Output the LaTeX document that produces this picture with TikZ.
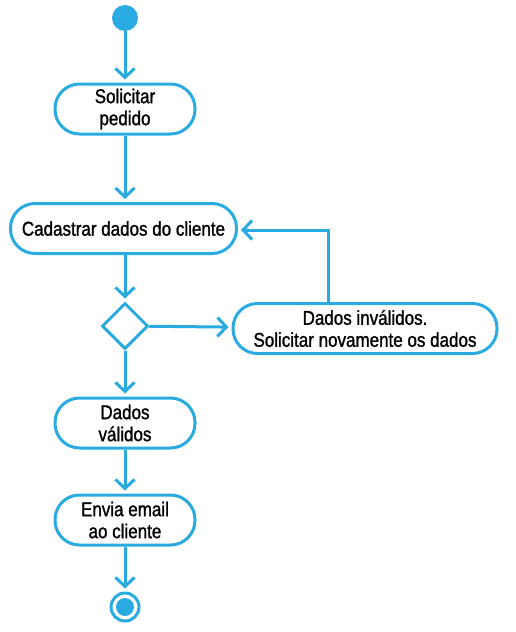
\documentclass[tikz,border=0pt]{standalone}
\usepackage{fontspec}
\setmainfont{Liberation Sans}[FakeStretch=0.85,FakeBold=1.2]
\usetikzlibrary{arrows.meta,shapes.geometric}
\definecolor{uml}{RGB}{41,171,226}
\begin{document}
\begin{tikzpicture}[x=1pt,y=-1pt,
  every node/.style={font=\fontsize{20}{22}\selectfont},
  act/.style={draw=uml,line width=3pt,fill=white,rounded corners=24.5pt,minimum height=50pt,align=center,inner sep=0pt},
  flow/.style={draw=uml,line width=3pt,-{Straight Barb[length=9pt,width=19pt,line width=3pt]},shorten >=3pt},
  dec/.style={draw=uml,line width=3pt,diamond,minimum width=46pt,minimum height=46pt,inner sep=0pt}]
\useasboundingbox (0,0) rectangle (515,632);
\node[circle,fill=uml,minimum size=26pt,inner sep=0pt] (start) at (125,18) {};
\node[act,minimum width=140pt] (sol) at (125,109) {Solicitar\\pedido};
\node[act,minimum width=226pt] (cad) at (123.5,228.5) {Cadastrar dados do cliente};
\node[dec] (dec) at (125,326) {};
\node[act,minimum width=264pt] (inv) at (365,328.5) {Dados inválidos.\\Solicitar novamente os dados};
\node[act,minimum width=140pt] (val) at (125,423) {Dados\\válidos};
\node[act,minimum width=140pt] (env) at (125,520) {Envia email\\ao cliente};
\node[circle,draw=uml,line width=3pt,minimum size=28pt,inner sep=0pt] (end) at (125,607) {};
\fill[uml] (end.center) circle (9pt);
\coordinate (cx) at (125,0);
\draw[flow] (start) -- (sol);
\draw[flow] (sol) -- (sol |- cad.north);
\draw[flow] (cad.south -| cx) -- (dec);
\draw[flow] (dec) -- (inv);
\draw[flow] (inv.north -| 328,0) |- (cad.east |- 0,230);
\draw[flow] (dec) -- (val);
\draw[flow] (val) -- (env);
\draw[flow] (env) -- (end);
\end{tikzpicture}
\end{document}
